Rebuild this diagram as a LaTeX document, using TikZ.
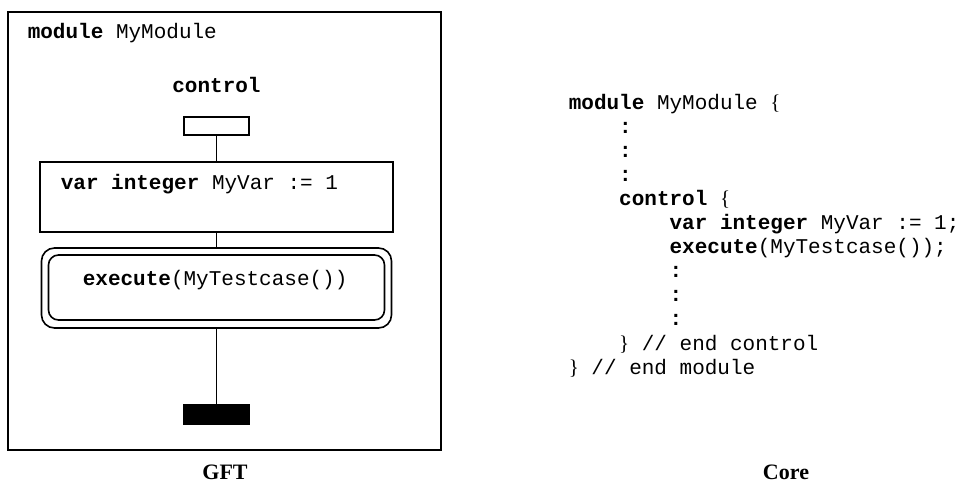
\documentclass[tikz,border=0pt]{standalone}
\usepackage{fontspec}
\setmainfont{Liberation Serif}
\setmonofont{Liberation Mono}
\newfontfamily\bracefont{Liberation Serif}
\newcommand{\codefont}{\ttfamily\fontsize{15.75}{18}\selectfont}
\newcommand{\lb}{{\bracefont\{}}
\newcommand{\rb}{{\bracefont\}}}
\begin{document}
\begin{tikzpicture}[x=0.75pt,y=-0.75pt,
  line width=1.2pt,
  code/.style={anchor=base west,inner sep=0pt,font=\codefont},
  caption/.style={anchor=base,inner sep=0pt,font=\bfseries\fontsize{16.5}{19}\selectfont},
  gbox/.style={draw,rectangle,inner sep=0pt},
]
\useasboundingbox (0,0) rectangle (965,482);
% frame
\node[gbox,minimum width=433*0.75pt,minimum height=438*0.75pt] (frame) at (224.5,231) {};
\node[code] (modlabel) at (27,38) {\textbf{module} MyModule};
\node[code,anchor=base] (ctrllabel) at (216.5,92) {\textbf{control}};
% boxes
\node[gbox,minimum width=65*0.75pt,minimum height=18*0.75pt] (ctrlbox) at (216.5,126) {};
\node[gbox,minimum width=353*0.75pt,minimum height=70*0.75pt] (varbox) at (216.5,197) {};
\node[code] (vartext) at (60,189) {\textbf{var integer} MyVar := 1};
\node[gbox,rounded corners=13*0.75pt,minimum width=350*0.75pt,minimum height=80*0.75pt] (execouter) at (216.5,288) {};
\node[gbox,rounded corners=10*0.75pt,minimum width=336*0.75pt,minimum height=65*0.75pt] (execinner) at (216.5,287.5) {};
\node[code] (exectext) at (82,285) {\textbf{execute}(MyTestcase())};
\node[gbox,fill=black,minimum width=66*0.75pt,minimum height=19*0.75pt] (endbox) at (216.5,414.5) {};
% connectors
\draw (ctrlbox.south) -- (varbox.north);
\draw (varbox.south) -- (execouter.north);
\draw (execouter.south) -- (endbox.north);
% captions
\node[caption] (gft) at (225,479) {GFT};
\node[caption] (core) at (786,479) {Core};
% code
\def\lsp{24.1}
\def\cx{568}
\def\cw{12.6}
\node[code] (c1) at (\cx,109) {\textbf{module} MyModule \lb};
\node[code] (c2) at (\cx+4*\cw,109+1*\lsp) {\textbf{:}};
\node[code] (c3) at (\cx+4*\cw,109+2*\lsp) {\textbf{:}};
\node[code] (c4) at (\cx+4*\cw,109+3*\lsp) {\textbf{:}};
\node[code] (c5) at (\cx+4*\cw,109+4*\lsp) {\textbf{control} \lb};
\node[code] (c6) at (\cx+8*\cw,109+5*\lsp) {\textbf{var integer} MyVar := 1;};
\node[code] (c7) at (\cx+8*\cw,109+6*\lsp) {\textbf{execute}(MyTestcase());};
\node[code] (c8) at (\cx+8*\cw,109+7*\lsp) {\textbf{:}};
\node[code] (c9) at (\cx+8*\cw,109+8*\lsp) {\textbf{:}};
\node[code] (c10) at (\cx+8*\cw,109+9*\lsp) {\textbf{:}};
\node[code] (c11) at (\cx+4*\cw,109+10*\lsp) {\rb{} // end control};
\node[code] (c12) at (\cx,109+11*\lsp) {\rb{} // end module};
\end{tikzpicture}
\end{document}
